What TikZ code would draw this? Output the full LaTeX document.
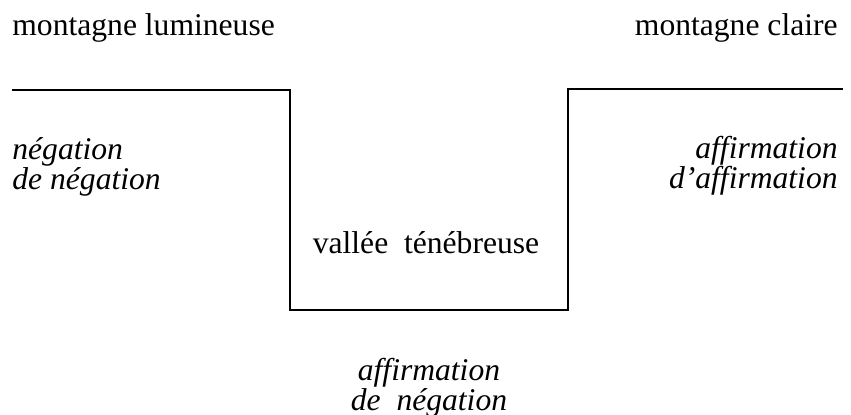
\documentclass[tikz,border=0pt]{standalone}
\usepackage{fontspec}
\setmainfont{Liberation Serif}
\usetikzlibrary{positioning}
\tikzset{
  every node/.style={inner sep=0, font=\fontsize{15.8}{15}\selectfont},
  mot/.style={},
  terme/.style={font=\fontsize{15.8}{15}\selectfont\itshape, align=center},
  relief/.style={line width=1.4pt, line join=miter}
}

\begin{document}
\begin{tikzpicture}[x=0.5pt, y=-0.5pt]
  \useasboundingbox (0,0) rectangle (851,414);
  % profil : deux sommets et la vallee entre eux
  \coordinate (g0) at (12,90);
  \coordinate (g1) at (290,90);
  \coordinate (v0) at (290,310);
  \coordinate (v1) at (568,310);
  \coordinate (d1) at (568,89);
  \coordinate (d0) at (843,89);
  \draw[relief] (g0) -- (g1) -- (v0) -- (v1) -- (d1) -- (d0);

  % noms des lieux
  \node[mot, anchor=base west] (lum) at (12,35) {montagne lumineuse};
  \node[mot, anchor=base east] (cla) at (838,35) {montagne claire};
  \node[mot, anchor=base] (val) at (426,253) {vallée\enspace ténébreuse};

  % termes (base = derniere ligne)
  \node[terme, anchor=base west, align=left] (negneg) at (12,189) {négation\\de négation};
  \node[terme, anchor=base east, align=right] (affaff) at (838,188) {affirmation\\d’affirmation};
  \node[terme, anchor=base] (affneg) at (429,410) {affirmation\\de\enspace négation};
\end{tikzpicture}
\end{document}
